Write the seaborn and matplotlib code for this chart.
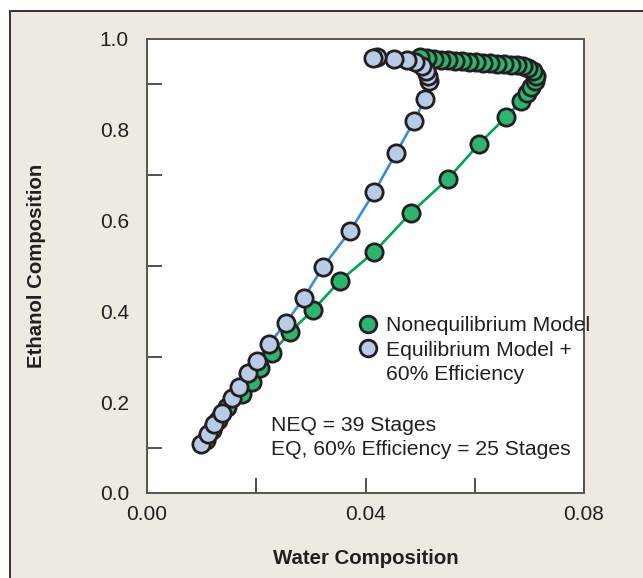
import numpy as np
import pandas as pd
import matplotlib
matplotlib.use("Agg")
import matplotlib.pyplot as plt
import seaborn as sns
from matplotlib.patches import Rectangle
from matplotlib.lines import Line2D

# Nonequilibrium model (39 stages)
neq_water = [0.0108, 0.0119, 0.0130, 0.0146, 0.0174, 0.0192, 0.0207, 0.0229, 0.0262,
             0.0304, 0.0353, 0.0416, 0.0483, 0.0551, 0.0608, 0.0657, 0.0685, 0.0696,
             0.0703, 0.0710, 0.0712, 0.0707, 0.0697, 0.0688, 0.0677, 0.0666, 0.0654,
             0.0641, 0.0628, 0.0615, 0.0602, 0.0589, 0.0577, 0.0564, 0.0551, 0.0538,
             0.0525, 0.0513, 0.0500]
neq_ethanol = [0.117, 0.139, 0.161, 0.189, 0.218, 0.244, 0.275, 0.308, 0.355,
               0.403, 0.467, 0.531, 0.617, 0.692, 0.769, 0.828, 0.863, 0.881,
               0.894, 0.907, 0.919, 0.930, 0.936, 0.941, 0.943, 0.943, 0.945,
               0.945, 0.947, 0.947, 0.949, 0.949, 0.952, 0.952, 0.954, 0.954,
               0.956, 0.958, 0.960]

# Equilibrium model + 60% efficiency
eq_water = [0.0099, 0.0112, 0.0123, 0.0137, 0.0156, 0.0168, 0.0185, 0.0201, 0.0223,
            0.0254, 0.0287, 0.0322, 0.0372, 0.0416, 0.0456, 0.0489, 0.0509, 0.0516,
            0.0514, 0.0511, 0.0503, 0.0491, 0.0476, 0.0452, 0.0421, 0.0414]
eq_ethanol = [0.108, 0.130, 0.152, 0.176, 0.209, 0.233, 0.264, 0.291, 0.328,
              0.374, 0.430, 0.498, 0.577, 0.663, 0.749, 0.819, 0.868, 0.907,
              0.919, 0.930, 0.941, 0.949, 0.954, 0.956, 0.961, 0.959]

x_ticks = [0.00, 0.04, 0.08]
x_tick_labels = ["0.00", "0.04", "0.08"]
y_ticks = [0.0, 0.2, 0.4, 0.6, 0.8, 1.0]
y_tick_labels = ["0.0", "0.2", "0.4", "0.6", "0.8", "1.0"]

neq_df = pd.DataFrame({"water": neq_water, "ethanol": neq_ethanol})
eq_df = pd.DataFrame({"water": eq_water, "ethanol": eq_ethanol})

sns.set_theme(style="white")
plt.rcParams["font.family"] = ["Liberation Sans", "DejaVu Sans"]

W, H = 643, 578
fig = plt.figure(figsize=(W / 100, H / 100), dpi=100)
fig.patch.set_facecolor("white")
fig.patches.append(Rectangle((9.5 / W, -0.05), 1.0, (H - 10.5) / H + 0.05,
                             transform=fig.transFigure, facecolor="#EEEAE0",
                             edgecolor="#333333", linewidth=1.4, zorder=-10))

ax = fig.add_axes([147 / W, 1 - 493 / H, 437 / W, 454 / H])
ax.set_zorder(1)
ax.set_facecolor("white")

text_col = "#231F20"
green_line = "#00A651"
blue_line = "#3C8DD6"
green_fill = "#2BB56E"
blue_fill = "#B8CCE8"

sns.lineplot(data=neq_df, x="water", y="ethanol", sort=False, estimator=None,
             color=green_line, lw=1.9, ax=ax, zorder=2)
sns.lineplot(data=eq_df, x="water", y="ethanol", sort=False, estimator=None,
             color=blue_line, lw=1.9, ax=ax, zorder=2)
sns.scatterplot(data=neq_df, x="water", y="ethanol", color=green_fill, s=155,
                edgecolor=text_col, linewidth=2.0, ax=ax, zorder=3)
sns.scatterplot(data=eq_df, x="water", y="ethanol", color=blue_fill, s=155,
                edgecolor=text_col, linewidth=2.0, ax=ax, zorder=4)

ax.set_xlim(0, 0.08)
ax.set_ylim(0, 1.0)
ax.set_xticks(x_ticks)
ax.set_xticklabels(x_tick_labels)
ax.set_yticks(y_ticks)
ax.set_yticklabels(y_tick_labels)
ax.set_xticks([0.02, 0.06], minor=True)
ax.set_yticks([0.1, 0.3, 0.5, 0.7, 0.9], minor=True)
ax.tick_params(axis="x", which="major", direction="in", length=11, width=1.2,
               color="#333333", bottom=True, pad=9, labelsize=15,
               labelcolor=text_col)
ax.tick_params(axis="y", which="major", direction="in", length=0, pad=13,
               labelsize=15, labelcolor=text_col)
ax.tick_params(which="minor", direction="in", length=11, width=1.2,
               color="#333333", bottom=True, left=True)

for sp in ax.spines.values():
    sp.set_color("#555555")
    sp.set_linewidth(1.4)

ax.set_xlabel("Water Composition", fontsize=14.7, fontweight="bold", color=text_col)
ax.set_ylabel("Ethanol Composition", fontsize=14.7, fontweight="bold", color=text_col)
ax.xaxis.set_label_coords(0.5, (493 - 558) / 454)
ax.xaxis.label.set_va("center")
ax.yaxis.set_label_coords((37 - 147) / 437, 0.5)
ax.yaxis.label.set_va("center")

handles = [
    Line2D([], [], marker="o", linestyle="none", markersize=12,
           markerfacecolor=green_fill, markeredgecolor=text_col, markeredgewidth=2),
    Line2D([], [], marker="o", linestyle="none", markersize=12,
           markerfacecolor=blue_fill, markeredgecolor=text_col, markeredgewidth=2),
    Line2D([], [], linestyle="none"),
]
leg = ax.legend(handles, ["Nonequilibrium Model", "Equilibrium Model +", "60% Efficiency"],
                loc="upper left", bbox_to_anchor=(0.459, 0.413), frameon=False,
                fontsize=15.2, handlelength=0.9, handletextpad=0.4,
                labelspacing=0.27, borderpad=0)
for t in leg.get_texts():
    t.set_color(text_col)

ax.text(0.0227, 0.123, "NEQ = 39 Stages\nEQ, 60% Efficiency = 25 Stages",
        ha="left", va="center", fontsize=15.2, color=text_col, linespacing=1.35)

fig.savefig("out.png", dpi=100, facecolor=fig.get_facecolor())
